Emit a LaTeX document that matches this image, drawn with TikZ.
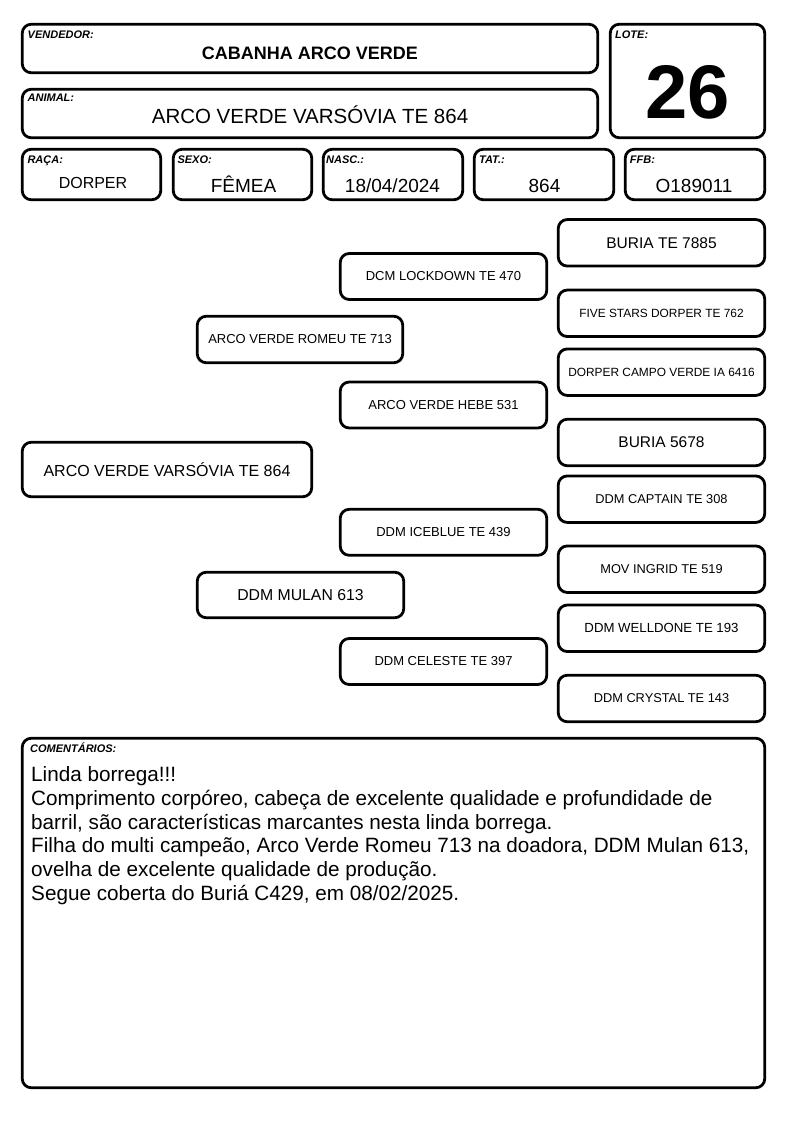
\documentclass[tikz,border=0pt]{standalone}
\usepackage{fontspec}
\setmainfont{Liberation Sans}
\newcommand\fsz[1]{\fontsize{#1}{#1}\selectfont}
\begin{document}
\begin{tikzpicture}[x=1pt,y=-1pt,
  box/.style={draw, line width=2.8pt, rounded corners=9pt, inner sep=0pt, align=center},
  hdr/.style={box, minimum height=50.5pt},
  mid/.style={box, minimum width=206.5pt, minimum height=46pt, font=\fsz{13}},
  rgt/.style={box, minimum width=206.5pt, minimum height=46.5pt, font=\fsz{12.8}},
  lbl/.style={anchor=base west, inner sep=0pt, font=\fsz{11}\bfseries\itshape},
  val/.style={anchor=base, inner sep=0pt, font=\fsz{19}},
  cmt/.style={anchor=base west, inner sep=0pt, font=\fsz{20.7}}]
\useasboundingbox (0,0) rectangle (794,1123);
\fill[white] (0,0) rectangle (794,1123);

% header
\node[box, minimum width=575.5pt, minimum height=48.5pt] (vend) at (310,48.5) {};
\node[lbl] (vendl) at (27.5,39) {VENDEDOR:};
\node[anchor=base, inner sep=0pt, font=\fsz{18}\bfseries] (vendt) at (310,60) {CABANHA ARCO VERDE};

\node[box, minimum width=575.5pt, minimum height=48.5pt] (anim) at (310,113.5) {};
\node[lbl] (animl) at (27.5,102) {ANIMAL:};
\node[anchor=base, inner sep=0pt, font=\fsz{20.5}] (animt) at (310,123.3) {ARCO VERDE VARSÓVIA TE 864};

\node[box, minimum width=154.5pt, minimum height=113.5pt] (lote) at (687.5,81) {};
\node[lbl] (lotel) at (615,39) {LOTE:};
\node[anchor=base, inner sep=0pt, font=\fsz{76}\bfseries] (lotet) at (687.5,118.5) {26};

\node[hdr, minimum width=138.5pt] (raca) at (91.5,174.5) {};
\node[lbl] (racal) at (27.3,163.3) {RAÇA:};
\node[val, font=\fsz{16}] (racat) at (93,188.3) {DORPER};

\node[hdr, minimum width=138.5pt] (sexo) at (242.5,174.5) {};
\node[lbl] (sexol) at (177.3,163.3) {SEXO:};
\node[val] (sexot) at (243.5,192.7) {FÊMEA};

\node[hdr, minimum width=139.5pt] (nasc) at (393,174.5) {};
\node[lbl] (nascl) at (326,163.3) {NASC.:};
\node[val] (nasct) at (392.5,192.7) {18/04/2024};

\node[hdr, minimum width=139.5pt] (tat) at (544,174.5) {};
\node[lbl] (tatl) at (479,163.3) {TAT.:};
\node[val] (tatt) at (544.5,192.7) {864};

\node[hdr, minimum width=139.5pt] (ffb) at (695,174.5) {};
\node[lbl] (ffbl) at (629.7,163.3) {FFB:};
\node[val] (ffbt) at (694,192.7) {O189011};

% pedigree
\node[box, minimum width=289.5pt, minimum height=54.5pt, font=\fsz{16}] (main) at (167,469.5) {ARCO VERDE VARSÓVIA TE 864};

\node[box, minimum width=205.5pt, minimum height=46.5pt, font=\fsz{13}] (sire) at (300,339.5) {ARCO VERDE ROMEU TE 713};
\node[box, minimum width=206.5pt, minimum height=45.5pt, font=\fsz{15.8}] (dam) at (300.5,595) {DDM MULAN 613};

\node[mid] (ss) at (443.5,276.5) {DCM LOCKDOWN TE 470};
\node[mid] (sd) at (443.5,405) {ARCO VERDE HEBE 531};
\node[mid] (ds) at (443.5,532.3) {DDM ICEBLUE TE 439};
\node[mid] (dd) at (443.5,661.5) {DDM CELESTE TE 397};

\node[rgt, font=\fsz{15.5}] (sss) at (661.5,242.8) {BURIA TE 7885};
\node[rgt, font=\fsz{11.9}] (ssd) at (661.5,313.3) {FIVE STARS DORPER TE 762};
\node[rgt, font=\fsz{11.9}] (sds) at (661.5,372.2) {DORPER CAMPO VERDE IA 6416};
\node[rgt, font=\fsz{15.5}] (sdd) at (661.5,442.5) {BURIA 5678};
\node[rgt] (dss) at (661.5,499.2) {DDM CAPTAIN TE 308};
\node[rgt] (dsd) at (661.5,569.2) {MOV INGRID TE 519};
\node[rgt, font=\fsz{13.2}] (dds) at (661.5,628.3) {DDM WELLDONE TE 193};
\node[rgt] (ddd) at (661.5,698.5) {DDM CRYSTAL TE 143};

% comments
\node[box, minimum width=742.5pt, minimum height=349.5pt] (com) at (393.5,913) {};
\node[lbl] (coml) at (30,752) {COMENTÁRIOS:};
\node[cmt] (c1) at (31,781.7) {Linda borrega!!!};
\node[cmt] (c2) at (31,805.4) {Comprimento corpóreo, cabeça de excelente qualidade e profundidade de};
\node[cmt] (c3) at (31,829.1) {barril, são características marcantes nesta linda borrega.};
\node[cmt] (c4) at (31,852.8) {Filha do multi campeão, Arco Verde Romeu 713 na doadora, DDM Mulan 613,};
\node[cmt] (c5) at (31,876.5) {ovelha de excelente qualidade de produção.};
\node[cmt] (c6) at (31,900.2) {Segue coberta do Buriá C429, em 08/02/2025.};
\end{tikzpicture}
\end{document}
